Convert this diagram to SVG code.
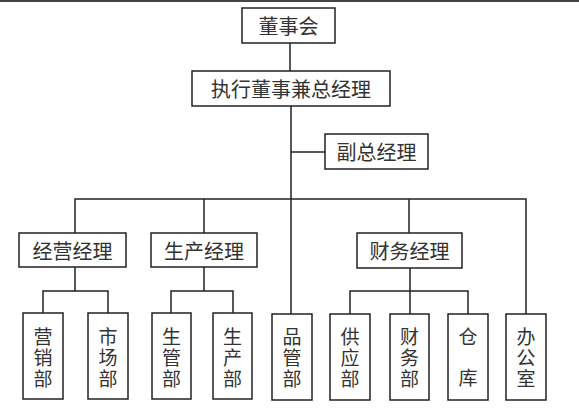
<svg xmlns="http://www.w3.org/2000/svg" width="579" height="409" viewBox="0 0 579 409">
<style>
.box{fill:#fff;stroke:#222;stroke-width:1.5}
.ln{fill:none;stroke:#222;stroke-width:1.5}
.t{font-family:"Noto Sans CJK SC","Noto Sans CJK TC",sans-serif;font-size:20px;fill:#333;text-anchor:middle;dominant-baseline:central}
.v{font-family:"Noto Sans CJK SC","Noto Sans CJK TC",sans-serif;font-size:19px;fill:#333;text-anchor:middle;writing-mode:vertical-rl;dominant-baseline:central;letter-spacing:2px}
</style>
<rect x="0" y="0" width="579" height="409" fill="#fff"/>
<rect x="0" y="0" width="579" height="2" fill="#444"/>
<g id="connectors">
<path class="ln" d="M290,43V71"/>
<path class="ln" d="M291,106V314"/>
<path class="ln" d="M291,152H325"/>
<path class="ln" d="M75,233V199H526V314"/>
<path class="ln" d="M204,199V233"/>
<path class="ln" d="M409,199V233"/>
<path class="ln" d="M75,267V291"/>
<path class="ln" d="M43,313V291H108V313"/>
<path class="ln" d="M204,267V291"/>
<path class="ln" d="M171,313V291H233V313"/>
<path class="ln" d="M410,268V314"/>
<path class="ln" d="M350,314V291H468V314"/>
</g>
<g id="n1"><rect class="box" x="242" y="8" width="93" height="35"/><text class="t" x="288.5" y="25.5">董事会</text></g>
<g id="n2"><rect class="box" x="192" y="71" width="198" height="35"/><text class="t" x="291" y="88.5">执行董事兼总经理</text></g>
<g id="n3"><rect class="box" x="325" y="134" width="103" height="35"/><text class="t" x="376.5" y="151.5">副总经理</text></g>
<g id="n4"><rect class="box" x="19" y="233" width="107" height="34"/><text class="t" x="72.5" y="250">经营经理</text></g>
<g id="n5"><rect class="box" x="151" y="233" width="106" height="34"/><text class="t" x="204" y="250">生产经理</text></g>
<g id="n6"><rect class="box" x="357" y="233" width="105" height="35"/><text class="t" x="409.5" y="250.5">财务经理</text></g>
<g id="n7"><rect class="box" x="23" y="313" width="40" height="86"/><text class="v" x="43" y="359">营销部</text></g>
<g id="n8"><rect class="box" x="88" y="313" width="40" height="86"/><text class="v" x="108" y="359">市场部</text></g>
<g id="n9"><rect class="box" x="152" y="313" width="39" height="86"/><text class="v" x="171.5" y="359">生管部</text></g>
<g id="n10"><rect class="box" x="213" y="313" width="39" height="86"/><text class="v" x="232.5" y="359">生产部</text></g>
<g id="n11"><rect class="box" x="272" y="314" width="40" height="86"/><text class="v" x="292" y="359">品管部</text></g>
<g id="n12"><rect class="box" x="330" y="314" width="40" height="86"/><text class="v" x="350" y="359">供应部</text></g>
<g id="n13"><rect class="box" x="390" y="314" width="39" height="86"/><text class="v" x="409.5" y="359">财务部</text></g>
<g id="n14"><rect class="box" x="448" y="314" width="40" height="86"/><text class="v" x="468" y="368" style="letter-spacing:22px">仓库</text></g>
<g id="n15"><rect class="box" x="506" y="314" width="40" height="86"/><text class="v" x="526" y="359">办公室</text></g>
</svg>
